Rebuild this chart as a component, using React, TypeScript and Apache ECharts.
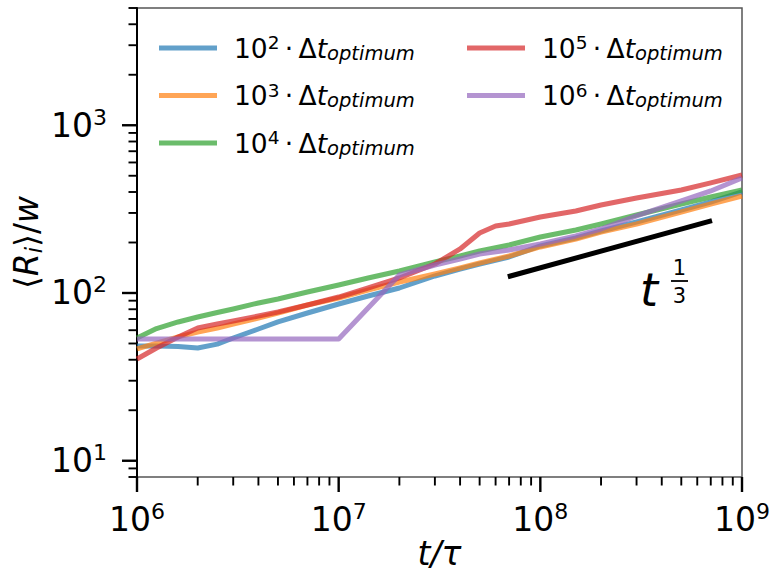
import React, { useEffect, useRef } from 'react';
import * as echarts from 'echarts';

// Axis ranges
const X_MIN = 1e6;
const X_MAX = 1e9;
const Y_MIN = 8;
const Y_MAX = 5000;

// Tick values
const X_MAJOR = [1e6, 1e7, 1e8, 1e9];
const X_DECADES = [1e6, 1e7, 1e8];
const Y_MAJOR = [10, 100, 1000];
const Y_DECADES = [1, 10, 100, 1000];
const MINOR_MULT = [2, 3, 4, 5, 6, 7, 8, 9];

// Series names / exponents
const EXPONENTS = [2, 3, 4, 5, 6];
const NAMES = EXPONENTS.map((e) => `10^${e}·Δt_optimum`);
const COLORS = [
  'rgba(31,119,180,0.7)',
  'rgba(255,127,14,0.7)',
  'rgba(44,160,44,0.7)',
  'rgba(214,39,40,0.7)',
  'rgba(148,103,189,0.7)',
];

// Data (t / tau, <R_i>/w)
const T = [1e6, 1.25e6, 1.6e6, 2e6, 2.5e6, 3e6, 4e6, 5e6, 7e6, 1e7, 1.4e7, 2e7, 3e7, 4e7, 5e7, 7e7, 1e8, 1.5e8, 2e8, 3e8, 5e8, 7e8, 1e9];
const BLUE = [48.3, 48.3, 48.0, 47.0, 49.6, 53.9, 61.0, 67.2, 76.0, 86.0, 96.0, 107.1, 126.3, 139.0, 148.9, 163.9, 190.7, 212.8, 234.2, 265.1, 312.6, 348.7, 400.3];
const ORANGE = [46.4, 50.3, 54.7, 58.5, 61.8, 65.3, 70.9, 76.0, 84.8, 93.4, 104.2, 116.3, 129.8, 141.0, 151.0, 166.2, 188.1, 209.9, 231.0, 257.9, 304.1, 339.4, 378.8];
const GREEN = [53.9, 61.4, 67.2, 71.9, 76.5, 80.3, 87.2, 92.1, 101.4, 111.6, 122.9, 135.3, 153.1, 166.2, 178.0, 193.3, 215.8, 237.5, 257.9, 291.9, 339.4, 373.6, 411.4];
const T_RED = [1e6, 1.25e6, 1.6e6, 2e6, 2.5e6, 3e6, 4e6, 5e6, 7e6, 1e7, 1.4e7, 2e7, 3e7, 4e7, 5e7, 6e7, 7e7, 1e8, 1.5e8, 2e8, 3e8, 5e8, 7e8, 1e9];
const RED = [40.4, 47.0, 54.7, 61.8, 65.3, 68.1, 72.9, 77.0, 84.8, 94.6, 107.1, 122.9, 148.9, 183.0, 228.0, 250.9, 257.9, 283.9, 308.3, 334.6, 368.6, 411.4, 453.0, 505.3];
const T_PURPLE = [1e6, 1e7, 2e7, 3e7, 4e7, 5e7, 7e7, 1e8, 1.5e8, 2e8, 3e8, 5e8, 7e8, 1e9];
const PURPLE = [53.2, 53.2, 128.0, 146.9, 159.5, 170.8, 180.5, 196.0, 218.8, 240.8, 287.9, 353.7, 405.8, 485.1];

// Guide line t^(1/3)
const REF_T = [6.9e7, 7.1e8];
const REF_V = [125, 270];

const FONT = '"DejaVu Sans", sans-serif';

const pair = (ts: number[], vs: number[]) => ts.map((t, i) => [t, vs[i]]);

const powLabel = (v: number) => {
  const e = Math.log10(v);
  const r = Math.round(e);
  if (Math.abs(e - r) > 1e-6) return '';
  return `{b|10}{s|${r}}`;
};

const tickRich = {
  b: { fontSize: 33, lineHeight: 38, fontFamily: FONT, color: '#000' },
  s: { fontSize: 22, lineHeight: 22, fontFamily: FONT, color: '#000', verticalAlign: 'top' },
};

const legendRich = {
  b: { fontSize: 26.5, lineHeight: 30, fontFamily: FONT, color: '#000' },
  s: { fontSize: 18.5, lineHeight: 18, fontFamily: FONT, color: '#000', verticalAlign: 'top' },
  i: { fontSize: 26.5, lineHeight: 30, fontFamily: FONT, color: '#000', fontStyle: 'italic' },
  u: { fontSize: 19.5, lineHeight: 18, fontFamily: FONT, color: '#000', fontStyle: 'italic', verticalAlign: 'bottom' },
};

const legendFormatter = (name: string) => {
  const idx = NAMES.indexOf(name);
  const e = EXPONENTS[idx];
  return `{b|10}{s|${e}}{b|\u2009·\u2009Δ}{i|t}{u|optimum}`;
};

// tick data: [x, y, axis(0=x,1=y), major(1/0)]
const tickData: number[][] = [];
X_MAJOR.forEach((v) => tickData.push([v, Y_MIN, 0, 1]));
X_DECADES.forEach((d) => MINOR_MULT.forEach((m) => tickData.push([d * m, Y_MIN, 0, 0])));
Y_MAJOR.forEach((v) => tickData.push([X_MIN, v, 1, 1]));
Y_DECADES.forEach((d) =>
  MINOR_MULT.forEach((m) => {
    const v = d * m;
    if (v >= Y_MIN - 1e-9 && v <= Y_MAX + 1e-9) tickData.push([X_MIN, v, 1, 0]);
  })
);

const lineSeries = (name: string, color: string, data: number[][]) => ({
  name,
  type: 'line',
  data,
  symbol: 'none',
  showSymbol: false,
  lineStyle: { color, width: 5, cap: 'butt', join: 'round' },
  itemStyle: { color },
  emphasis: { disabled: true },
  silent: true,
});

const legendBase = {
  orient: 'vertical',
  icon: 'rect',
  itemWidth: 58,
  itemHeight: 5,
  itemGap: 17.5,
  padding: 0,
  selectedMode: false,
  formatter: legendFormatter,
  textStyle: { color: '#000', fontFamily: FONT, fontSize: 26, padding: [0, 0, 0, 12], rich: legendRich },
};

const option: any = {
  animation: false,
  backgroundColor: '#fff',
  grid: {
    left: 137,
    right: 30,
    top: 8,
    bottom: 97,
    containLabel: false,
    outerBoundsMode: 'none',
    show: true,
    borderColor: '#555',
    borderWidth: 1.5,
    backgroundColor: 'transparent',
  },
  xAxis: {
    type: 'log',
    logBase: 10,
    min: X_MIN,
    max: X_MAX,
    name: 't/τ',
    nameLocation: 'middle',
    nameGap: 60,
    nameMoveOverlap: false,
    nameTextStyle: { fontFamily: FONT, fontSize: 33, fontStyle: 'italic', color: '#000' },
    axisLine: { show: false },
    axisTick: { show: false },
    minorTick: { show: false },
    splitLine: { show: false },
    axisLabel: {
      margin: 23,
      formatter: powLabel,
      showMinLabel: true,
      showMaxLabel: true,
      rich: tickRich,
      fontFamily: FONT,
      color: '#000',
    },
  },
  yAxis: {
    type: 'log',
    logBase: 10,
    min: Y_MIN,
    max: Y_MAX,
    name: '⟨{i|R}{u|i}⟩/{i|w}',
    nameLocation: 'middle',
    nameGap: 92,
    nameMoveOverlap: false,
    nameTextStyle: {
      fontFamily: FONT,
      fontSize: 33,
      lineHeight: 38,
      color: '#000',
      rich: {
        i: { fontSize: 33, lineHeight: 38, fontFamily: FONT, fontStyle: 'italic', color: '#000' },
        u: { fontSize: 23, lineHeight: 23, fontFamily: FONT, fontStyle: 'italic', color: '#000', verticalAlign: 'bottom' },
      },
    },
    axisLine: { show: true, lineStyle: { color: '#000', width: 2 } },
    axisTick: { show: false },
    minorTick: { show: false },
    splitLine: { show: false },
    axisLabel: {
      margin: 30,
      formatter: powLabel,
      rich: tickRich,
      fontFamily: FONT,
      color: '#000',
    },
  },
  legend: [
    { ...legendBase, data: NAMES.slice(0, 3), left: 159, top: 33 },
    { ...legendBase, data: NAMES.slice(3, 5), left: 467, top: 33 },
  ],
  series: [
    lineSeries(NAMES[0], COLORS[0], pair(T, BLUE)),
    lineSeries(NAMES[1], COLORS[1], pair(T, ORANGE)),
    lineSeries(NAMES[2], COLORS[2], pair(T, GREEN)),
    lineSeries(NAMES[3], COLORS[3], pair(T_RED, RED)),
    lineSeries(NAMES[4], COLORS[4], pair(T_PURPLE, PURPLE)),
    {
      name: 'guide',
      type: 'line',
      data: pair(REF_T, REF_V),
      symbol: 'none',
      lineStyle: { color: '#000', width: 5, cap: 'butt' },
      itemStyle: { color: '#000' },
      silent: true,
    },
    {
      name: 'ticks',
      type: 'custom',
      clip: false,
      silent: true,
      data: tickData,
      renderItem: (params: any, api: any) => {
        const axis = api.value(2);
        const major = api.value(3) === 1;
        const p = api.coord([api.value(0), api.value(1)]);
        const len = major ? 15 : 8.5;
        const lw = major ? 2.4 : 1.9;
        const shape =
          axis === 0
            ? { x1: p[0], y1: p[1], x2: p[0], y2: p[1] + len }
            : { x1: p[0] - len, y1: p[1], x2: p[0], y2: p[1] };
        return { type: 'line', shape, style: { stroke: '#000', lineWidth: lw } };
      },
    },
  ],
  graphic: [
    {
      type: 'text',
      x: 649,
      y: 290,
      style: { text: 't', font: `italic 46px ${FONT}`, fill: '#000', align: 'center', verticalAlign: 'middle' },
    },
    {
      type: 'text',
      x: 679.5,
      y: 267.5,
      style: { text: '1', font: `21px ${FONT}`, fill: '#000', align: 'center', verticalAlign: 'middle' },
    },
    {
      type: 'line',
      shape: { x1: 671, y1: 281, x2: 688, y2: 281 },
      style: { stroke: '#000', lineWidth: 1.8 },
    },
    {
      type: 'text',
      x: 679.5,
      y: 295.5,
      style: { text: '3', font: `21px ${FONT}`, fill: '#000', align: 'center', verticalAlign: 'middle' },
    },
  ],
};

export default function App() {
  const ref = useRef<HTMLDivElement>(null);
  useEffect(() => {
    const chart = echarts.init(ref.current as HTMLDivElement, null, { renderer: 'svg' });
    chart.setOption(option);
    return () => chart.dispose();
  }, []);
  return (
    <div
      ref={ref}
      style={{ position: 'fixed', left: 0, top: 0, width: 772, height: 574, background: '#fff' }}
    />
  );
}
